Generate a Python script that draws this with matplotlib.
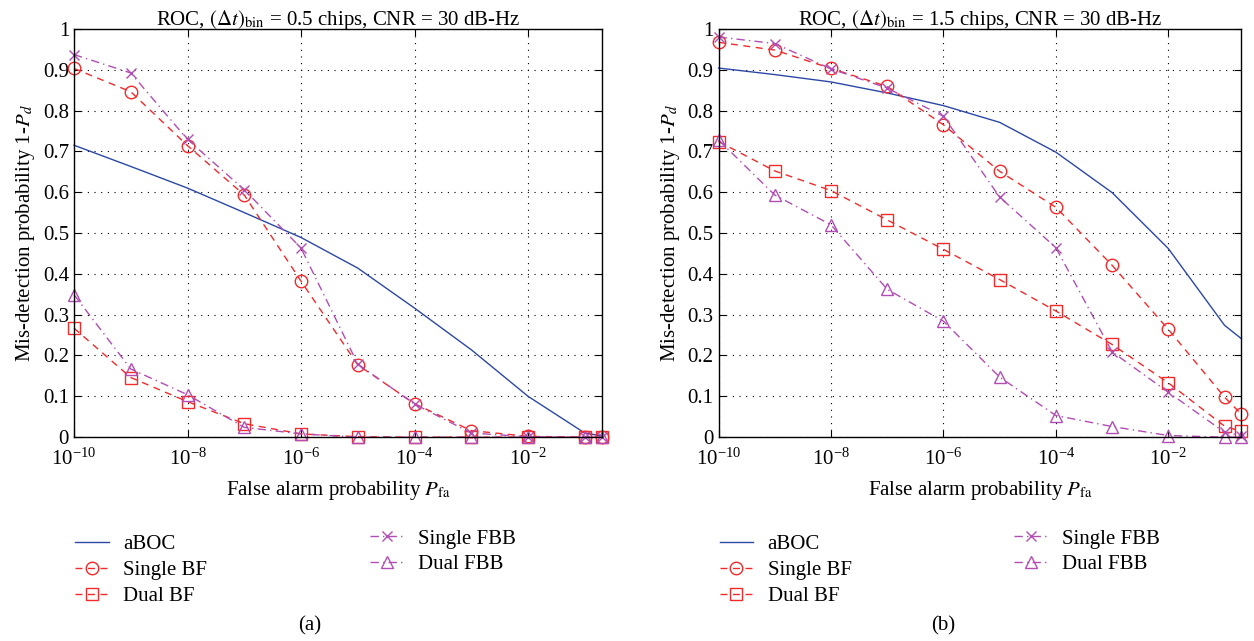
import numpy as np
import matplotlib
matplotlib.use("Agg")
import matplotlib.pyplot as plt
from matplotlib.lines import Line2D

plt.rcParams['font.family'] = ['Liberation Serif', 'DejaVu Serif']
plt.rcParams['mathtext.fontset'] = 'stix'

pfa = [1e-10, 1e-9, 1e-8, 1e-7, 1e-6, 1e-5, 1e-4, 1e-3, 1e-2, 1e-1, 0.2]

# panel (a): bin = 0.5 chips
a_aboc = [0.715, 0.663, 0.610, 0.550, 0.489, 0.414, 0.316, 0.214, 0.100, 0.010, 0.003]
a_single_bf = [0.903, 0.846, 0.714, 0.593, 0.382, 0.177, 0.082, 0.016, 0.002, 0.0, 0.0]
a_dual_bf = [0.267, 0.146, 0.087, 0.033, 0.008, 0.001, 0.0, 0.0, 0.0, 0.0, 0.0]
a_single_fbb = [0.937, 0.892, 0.729, 0.606, 0.463, 0.179, 0.081, 0.010, 0.001, 0.0, 0.0]
a_dual_fbb = [0.349, 0.167, 0.104, 0.024, 0.008, 0.0, 0.0, 0.0, 0.0, 0.0, 0.0]

# panel (b): bin = 1.5 chips
b_aboc = [0.904, 0.888, 0.870, 0.843, 0.812, 0.771, 0.698, 0.599, 0.462, 0.274, 0.241]
b_single_bf = [0.967, 0.948, 0.903, 0.859, 0.765, 0.651, 0.563, 0.421, 0.264, 0.098, 0.056]
b_dual_bf = [0.724, 0.652, 0.604, 0.532, 0.460, 0.386, 0.309, 0.227, 0.133, 0.027, 0.014]
b_single_fbb = [0.980, 0.964, 0.902, 0.855, 0.786, 0.588, 0.464, 0.209, 0.110, 0.012, 0.004]
b_dual_fbb = [0.728, 0.593, 0.520, 0.362, 0.284, 0.147, 0.053, 0.026, 0.004, 0.0, 0.0]

labels = ['aBOC', 'Single BF', 'Dual BF', 'Single FBB', 'Dual FBB']
blue = '#2b48a6'
red = '#f22a2a'
mag = '#b24db4'
styles = [
    dict(color=blue, ls='-', marker=None),
    dict(color=red, ls=(0, (5, 4)), marker='o', mfc='none', ms=9),
    dict(color=red, ls=(0, (5, 4)), marker='s', mfc='none', ms=8),
    dict(color=mag, ls=(0, (6, 3, 1, 3)), marker='x', ms=7),
    dict(color=mag, ls=(0, (6, 3, 1, 3)), marker='^', mfc='none', ms=9),
]

fig = plt.figure(figsize=(12.54, 6.41), dpi=100)
ax_a = fig.add_axes([0.059, 0.318, 0.421, 0.637])
ax_b = fig.add_axes([0.573, 0.318, 0.417, 0.637])

panels = [
    (ax_a, [a_aboc, a_single_bf, a_dual_bf, a_single_fbb, a_dual_fbb], '0.5', '(a)', 0.247),
    (ax_b, [b_aboc, b_single_bf, b_dual_bf, b_single_fbb, b_dual_fbb], '1.5', '(b)', 0.752),
]

for ax, series, chips, tag, xt in panels:
    for vals, st in zip(series, styles):
        ax.plot(pfa, vals, lw=1.0, mew=1.0, clip_on=False, **st)
    ax.set_xscale('log')
    ax.set_xlim(1e-10, 0.2)
    ax.set_ylim(0, 1)
    ax.set_xticks([1e-10, 1e-8, 1e-6, 1e-4, 1e-2])
    ax.xaxis.set_minor_locator(matplotlib.ticker.NullLocator())
    ax.set_yticks(np.arange(0, 1.01, 0.1))
    ax.set_yticklabels(['0', '0.1', '0.2', '0.3', '0.4', '0.5', '0.6', '0.7', '0.8', '0.9', '1'])
    ax.grid(True, ls=(0, (1, 5)), color='black', lw=0.8)
    ax.tick_params(direction='in', top=True, right=True, labelsize=15, length=5)
    ax.tick_params(axis='x', pad=8)
    for sp in ax.spines.values():
        sp.set_linewidth(1.0)
    ax.set_title(r'ROC, $(\Delta t)_{\rm bin}$ = ' + chips + ' chips, CNR = 30 dB-Hz',
                 fontsize=15, pad=3)
    ax.set_ylabel(r'Mis-detection probability 1-$P_d$', fontsize=15, labelpad=4)
    ax.set_xlabel(r'False alarm probability $P_{\rm fa}$', fontsize=15, labelpad=7)
    fig.text(xt, 0.023, tag, ha='center', va='center', fontsize=15)

    handles = [Line2D([], [], lw=1.0, mew=1.0, **st) for st in styles]
    pos = ax.get_position()
    fig.legend(handles[:3], labels[:3], loc='upper left', frameon=False,
               bbox_to_anchor=(pos.x0 - 0.014, 0.195), fontsize=15,
               handlelength=1.6, labelspacing=0.3, handletextpad=0.7)
    fig.legend(handles[3:], labels[3:], loc='upper left', frameon=False,
               bbox_to_anchor=(pos.x0 + 0.221, 0.204), fontsize=15,
               handlelength=1.6, labelspacing=0.3, handletextpad=0.7)

fig.savefig('out.png', dpi=100)
